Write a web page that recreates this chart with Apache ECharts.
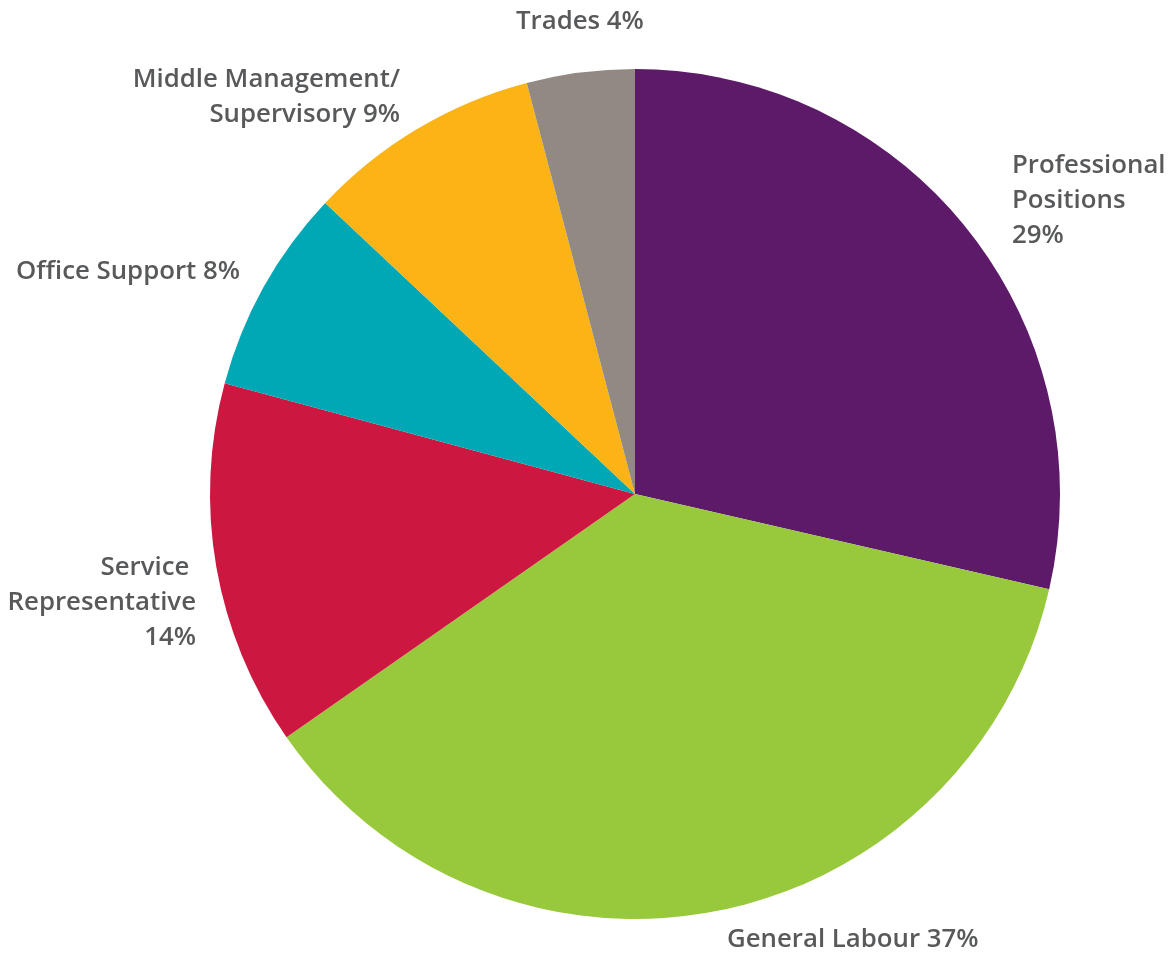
<!DOCTYPE html>
<html>
<head>
<meta charset="utf-8">
<script src="https://cdn.jsdelivr.net/npm/echarts@6/dist/echarts.min.js"></script>
<style>
html,body{margin:0;padding:0;background:#fff;}
#chart{width:1169px;height:958px;}
</style>
</head>
<body>
<div id="chart"></div>
<script>
const categories = ['Professional Positions', 'General Labour', 'Service Representative', 'Office Support', 'Middle Management/ Supervisory', 'Trades'];
const labelLines = ['Professional\nPositions\n{p}%', 'General Labour {p}%', 'Service \nRepresentative\n{p}%', 'Office Support {p}%', 'Middle Management/\nSupervisory {p}%', 'Trades {p}%'];
const values = [28.6, 36.7, 13.9, 7.8, 8.9, 4.1];
const colors = ['#5C1A68', '#98C93C', '#CC1840', '#00A7B5', '#FCB316', '#938983'];

// label anchor layout (pixels): [x, y, align]
const labelPlace = [
  [1012, 201, 'left'],
  [727, 940, 'left'],
  [196, 603, 'right'],
  [16, 272, 'left'],
  [400, 97, 'right'],
  [516, 22, 'left']
];

const chart = echarts.init(document.getElementById('chart'), null, {renderer: 'canvas'});
chart.setOption({
  animation: false,
  series: [{
    type: 'pie',
    center: [635, 494],
    radius: 425,
    startAngle: 90,
    clockwise: true,
    avoidLabelOverlap: false,
    itemStyle: {borderWidth: 0},
    label: {
      show: true,
      position: 'outside',
      fontFamily: 'Open Sans',
      fontWeight: 600,
      fontSize: 25.8,
      lineHeight: 35,
      color: '#58595B',
      formatter: function (p) {
        return labelLines[p.dataIndex].replace('{p}', Math.round(p.value));
      }
    },
    labelLine: {show: false},
    labelLayout: function (params) {
      const pl = labelPlace[params.dataIndex];
      return {x: pl[0], y: pl[1], align: pl[2], verticalAlign: 'middle'};
    },
    emphasis: {disabled: true},
    data: categories.map((c, i) => ({name: c, value: values[i], itemStyle: {color: colors[i]}}))
  }]
});
</script>
</body>
</html>
